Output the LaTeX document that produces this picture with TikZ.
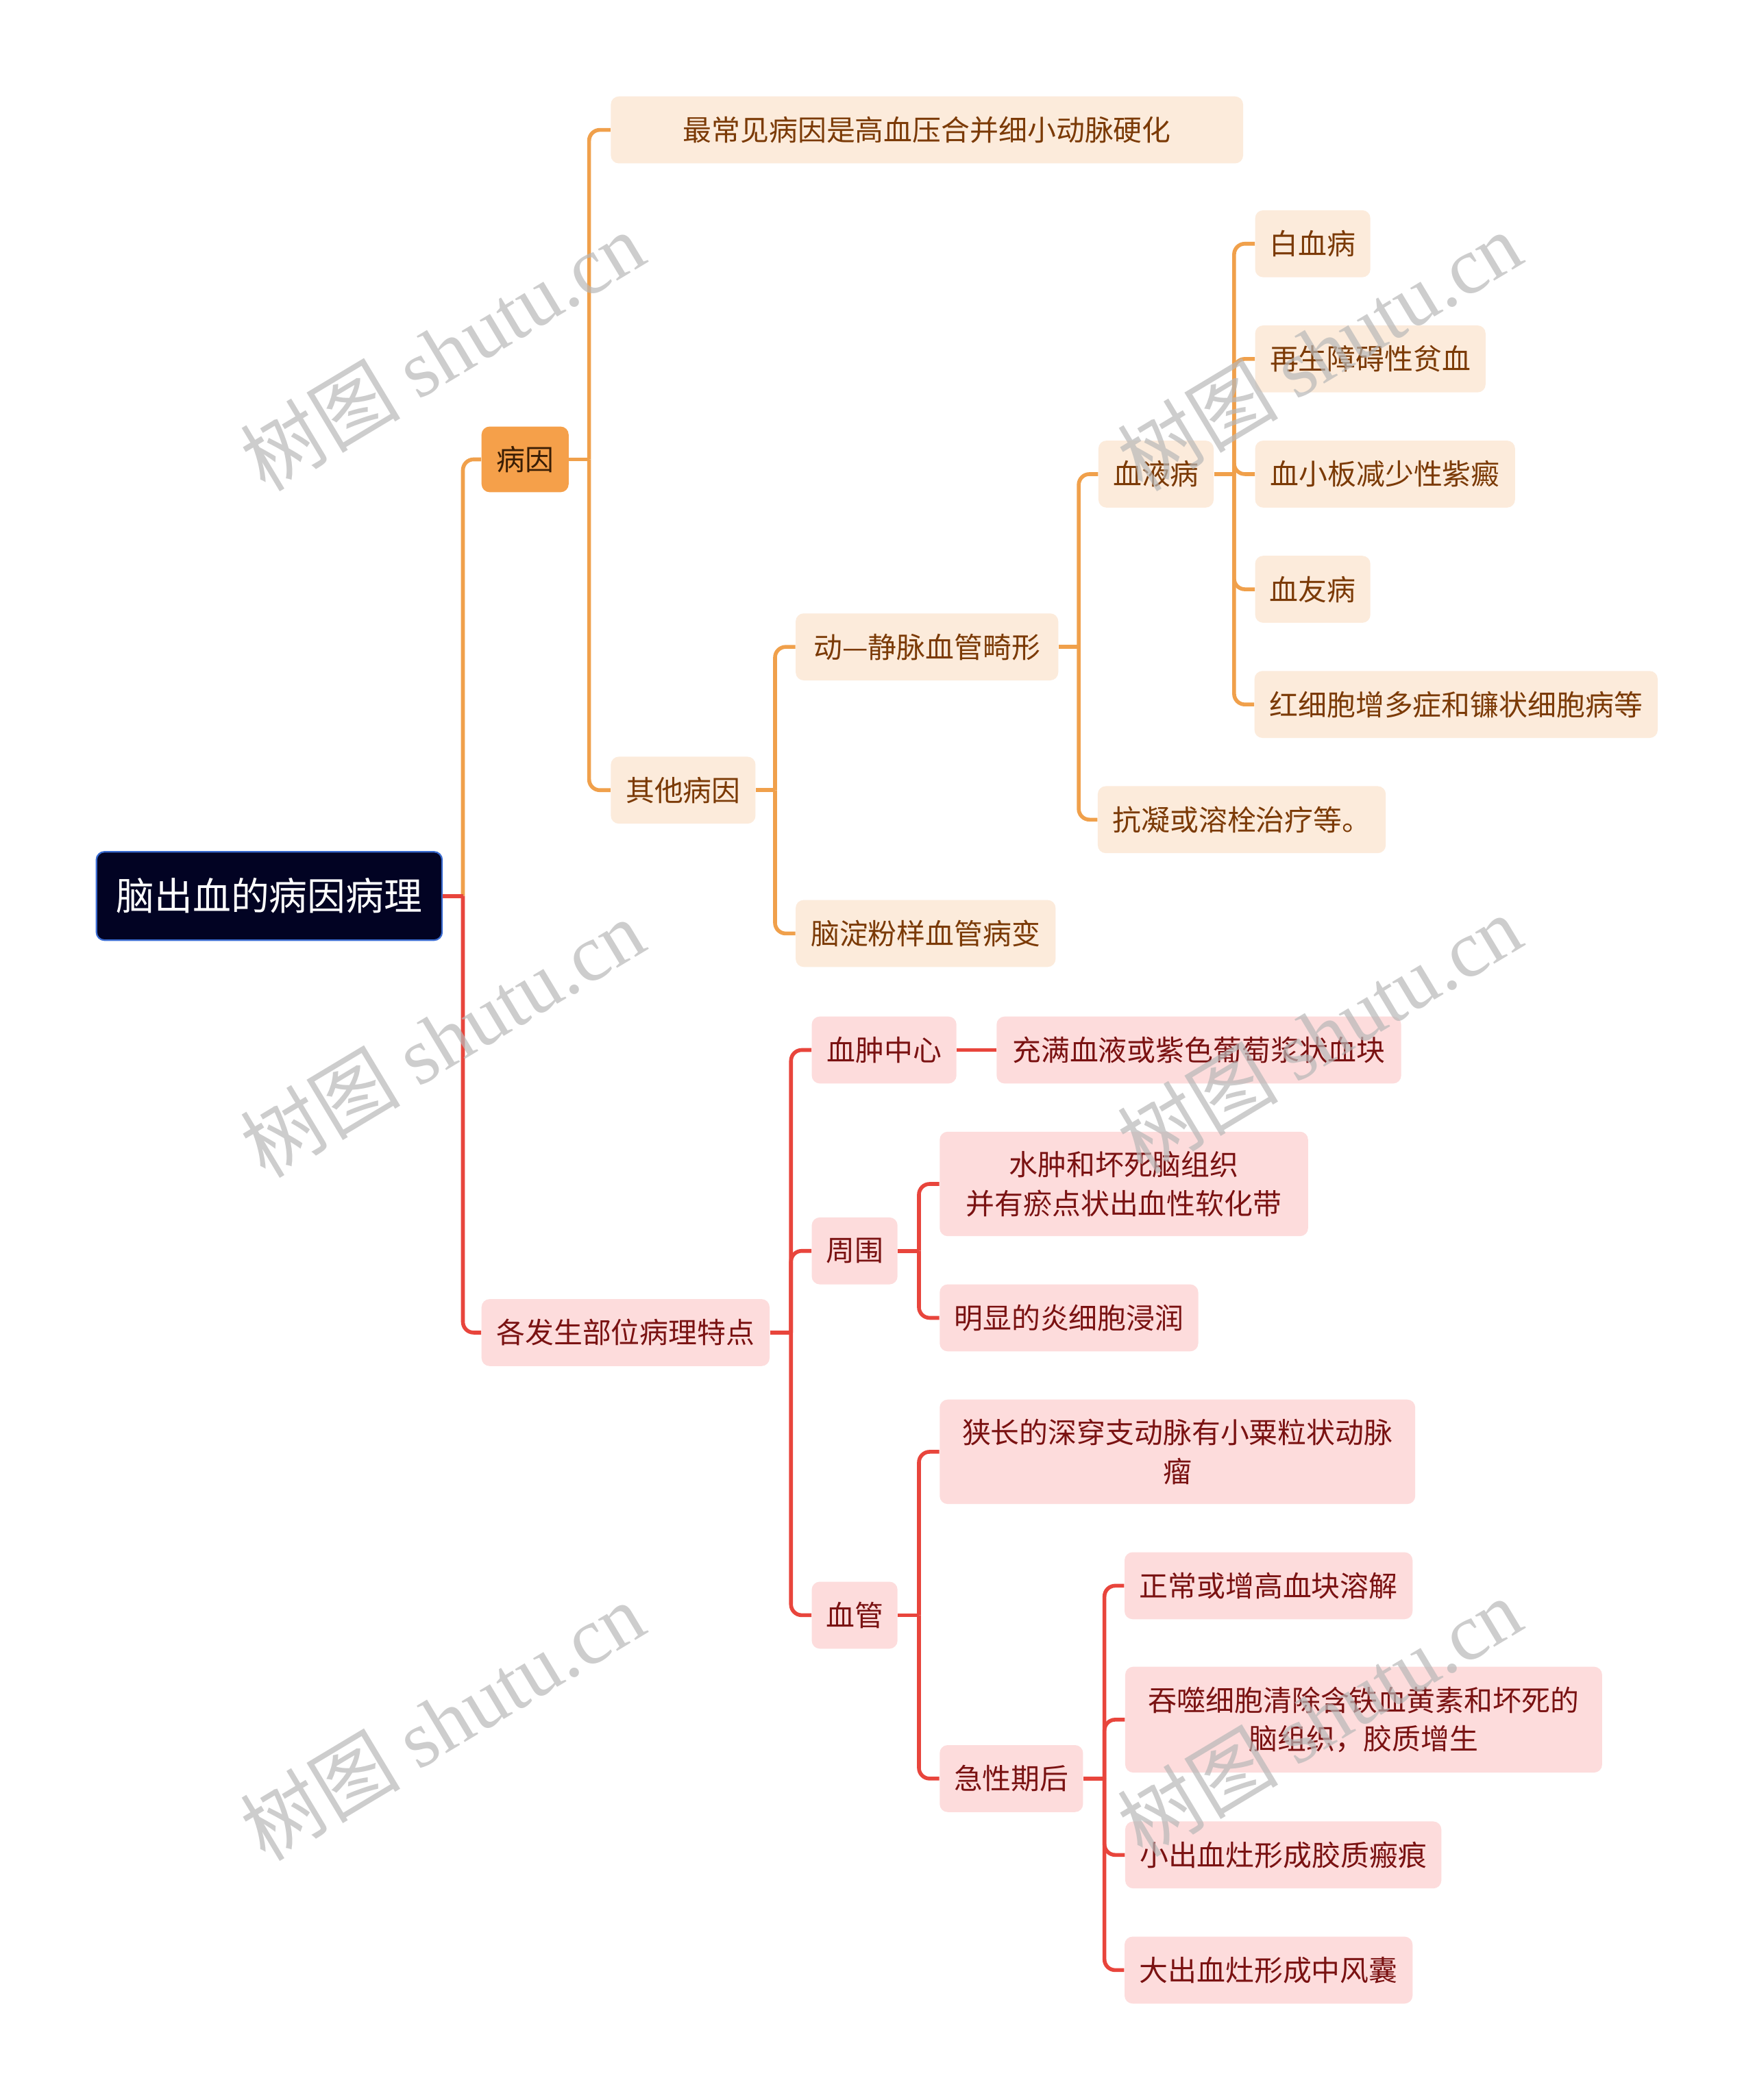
\documentclass[tikz,border=0pt]{standalone}
\usepackage{fontspec}
\setmainfont{Noto Sans CJK SC}
\newfontfamily\cjk{Noto Sans CJK SC}
\newfontfamily\wmfont{Liberation Serif}
\definecolor{orline}{HTML}{F0A04B}
\definecolor{orfill}{HTML}{FCEBDB}
\definecolor{ortext}{HTML}{7B3A06}
\definecolor{bingfill}{HTML}{F5A04A}
\definecolor{bingtext}{HTML}{3A1E05}
\definecolor{rdline}{HTML}{E8453C}
\definecolor{rdfill}{HTML}{FDDCDC}
\definecolor{rdtext}{HTML}{7A1212}
\definecolor{rootfill}{HTML}{020323}
\definecolor{rootdraw}{HTML}{3A6BD0}
\definecolor{wmgray}{HTML}{B8B8B8}
\tikzset{
  box/.style={rounded corners=4.2pt, inner sep=0pt, minimum height=35pt, align=center,
              font=\fontsize{15}{20.3}\selectfont},
  obox/.style={box, fill=orfill, text=ortext},
  rbox/.style={box, fill=rdfill, text=rdtext},
  orln/.style={draw=orline, line width=2pt, rounded corners=5.6pt},
  rdln/.style={draw=rdline, line width=2pt, rounded corners=5.6pt},
  wm/.style={text=wmgray, opacity=0.7, font=\fontsize{42}{42}\selectfont, inner sep=0pt}
}
\begin{document}
\begin{tikzpicture}[x=0.7pt,y=-0.7pt]
\path[fill=white] (0,0) rectangle (1310,1568);
% root
\node[box, fill=rootfill, draw=rootdraw, line width=0.8pt, text=white, minimum width=180.6pt, minimum height=46.2pt, font=\fontsize{20}{24}\selectfont] (root) at (201,669) {脑出血的病因病理};
% level 1
\node[box, fill=bingfill, text=bingtext, minimum width=45.5pt, minimum height=34.3pt] (by) at (392,343) {病因};
\node[rbox, minimum width=150.5pt] (gf) at (467,995) {各发生部位病理特点};
% 病因 branch
\node[obox, minimum width=330.4pt] (zc) at (692,97) {最常见病因是高血压合并细小动脉硬化};
\node[obox, minimum width=75.6pt] (qt) at (510,590) {其他病因};
\node[obox, minimum width=137.2pt] (dj) at (692,483) {动—静脉血管畸形};
\node[obox, minimum width=135.8pt] (nd) at (691,697) {脑淀粉样血管病变};
\node[obox, minimum width=60.2pt] (xy) at (863,354) {血液病};
\node[obox, minimum width=150.5pt] (kn) at (927,612) {抗凝或溶栓治疗等。};
\node[obox, minimum width=60.2pt] (bx) at (980,182) {白血病};
\node[obox, minimum width=120.4pt] (zs) at (1023,268) {再生障碍性贫血};
\node[obox, minimum width=135.8pt] (xb) at (1034,354) {血小板减少性紫癜};
\node[obox, minimum width=60.2pt] (xf) at (980,440) {血友病};
\node[obox, minimum width=210.7pt] (hx) at (1087,526) {红细胞增多症和镰状细胞病等};
% 各发生部位 branch
\node[rbox, minimum width=75.6pt] (xz) at (660,784) {血肿中心};
\node[rbox, minimum width=44.8pt] (zw) at (638,934) {周围};
\node[rbox, minimum width=44.8pt] (xg) at (638,1206) {血管};
\node[rbox, minimum width=211.4pt] (cm) at (895,784) {充满血液或紫色葡萄浆状血块};
\node[rbox, minimum width=192.5pt, minimum height=54.6pt] (sz) at (839,884) {水肿和坏死脑组织\\并有瘀点状出血性软化带};
\node[rbox, minimum width=135.1pt] (mx) at (798,984) {明显的炎细胞浸润};
\node[rbox, minimum width=248.5pt, minimum height=54.6pt] (xc) at (879,1084) {狭长的深穿支动脉有小粟粒状动脉\\瘤};
\node[rbox, minimum width=74.9pt] (jx) at (755,1328) {急性期后};
\node[rbox, minimum width=150.5pt] (zcx) at (947,1184) {正常或增高血块溶解};
\node[rbox, minimum width=249.2pt, minimum height=55.3pt] (ts) at (1018,1284) {吞噬细胞清除含铁血黄素和坏死的\\脑组织，胶质增生};
\node[rbox, minimum width=165.2pt] (xcx) at (958,1385) {小出血灶形成胶质瘢痕};
\node[rbox, minimum width=150.5pt] (dcx) at (947,1471) {大出血灶形成中风囊};
% junctions
\coordinate (j0) at ([xshift=10.5pt]root.east);
\coordinate (j1) at ([xshift=10.5pt]by.east);
\coordinate (j2) at ([xshift=10pt]qt.east);
\coordinate (j3) at ([xshift=10.5pt]dj.east);
\coordinate (j4) at ([xshift=10.5pt]xy.east);
\coordinate (j5) at ([xshift=11pt]gf.east);
\coordinate (j6) at ([xshift=11pt]zw.east);
\coordinate (j7) at ([xshift=11pt]xg.east);
\coordinate (j8) at ([xshift=11pt]jx.east);
% orange connectors
\draw[orln] (j0) |- (by.west);
\draw[orln] (by.east) -- (j1);
\draw[orln] (j1) |- (zc.west);
\draw[orln] (j1) |- (qt.west);
\draw[orln] (qt.east) -- (j2);
\draw[orln] (j2) |- (dj.west);
\draw[orln] (j2) |- (nd.west);
\draw[orln] (dj.east) -- (j3);
\draw[orln] (j3) |- (xy.west);
\draw[orln] (j3) |- (kn.west);
\draw[orln] (xy.east) -- (j4);
\draw[orln] (j4) |- (bx.west);
\draw[orln] (j4) |- (zs.west);
\draw[orln] (j4) |- (xb.west);
\draw[orln] (j4) |- (xf.west);
\draw[orln] (j4) |- (hx.west);
% red connectors
\draw[rdln] (root.east) -- (j0);
\draw[rdln] (j0) |- (gf.west);
\draw[rdln] (gf.east) -- (j5);
\draw[rdln] (j5) |- (xz.west);
\draw[rdln] (j5) |- (zw.west);
\draw[rdln] (j5) |- (xg.west);
\draw[rdln] (xz.east) -- (cm.west);
\draw[rdln] (zw.east) -- (j6);
\draw[rdln] (j6) |- (sz.west);
\draw[rdln] (j6) |- (mx.west);
\draw[rdln] (xg.east) -- (j7);
\draw[rdln] (j7) |- (xc.west);
\draw[rdln] (j7) |- (jx.west);
\draw[rdln] (jx.east) -- (j8);
\draw[rdln] (j8) |- (zcx.west);
\draw[rdln] (j8) |- (ts.west);
\draw[rdln] (j8) |- (xcx.west);
\draw[rdln] (j8) |- (dcx.west);
% watermarks
\node[wm, rotate=31] (w1) at (330,262) {\cjk 树图 \wmfont shutu.cn};
\node[wm, rotate=31] (w2) at (985,262) {\cjk 树图 \wmfont shutu.cn};
\node[wm, rotate=31] (w3) at (330,775) {\cjk 树图 \wmfont shutu.cn};
\node[wm, rotate=31] (w4) at (985,772) {\cjk 树图 \wmfont shutu.cn};
\node[wm, rotate=31] (w5) at (330,1285) {\cjk 树图 \wmfont shutu.cn};
\node[wm, rotate=31] (w6) at (985,1282) {\cjk 树图 \wmfont shutu.cn};
\end{tikzpicture}
\end{document}
